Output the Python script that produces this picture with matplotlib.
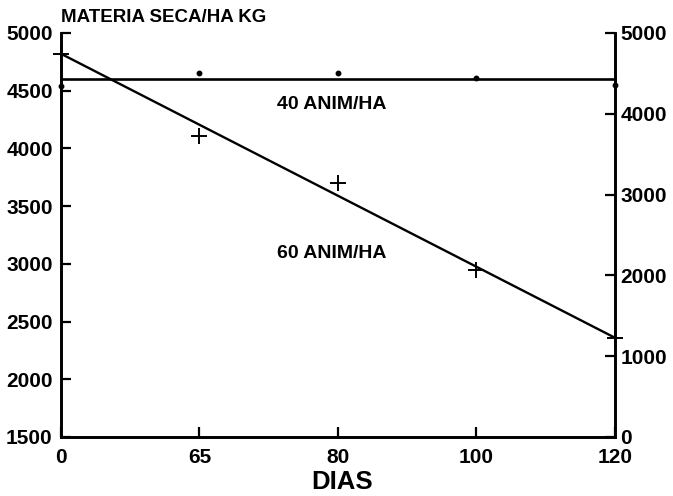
import numpy as np
import matplotlib
matplotlib.use('Agg')
import matplotlib.pyplot as plt

# datos
dias = ['0', '65', '80', '100', '120']
ms_60 = [4820, 4110, 3700, 2950, 2360]        # puntos (+) 60 ANIM/HA
ajuste_60 = [4820, 4205, 3590, 2975, 2360]    # recta ajustada
ms_40 = [4540, 4650, 4650, 4610, 4550]        # puntos 40 ANIM/HA
media_40 = 4600

izq_ticks = [1500, 2000, 2500, 3000, 3500, 4000, 4500, 5000]
der_ticks = [0, 1000, 2000, 3000, 4000, 5000]

plt.rcParams['font.family'] = ['Liberation Sans', 'DejaVu Sans']
plt.rcParams['font.weight'] = 'bold'

fig = plt.figure(figsize=(6.73, 4.96), dpi=100)
ax = fig.add_axes([0.0906, 0.119, 0.823, 0.8145])
x = np.arange(len(dias))

# 60 ANIM/HA
ax.plot(x, ajuste_60, color='black', lw=1.7, clip_on=False, zorder=3)
ax.plot(x, ms_60, ls='none', marker='+', ms=12, mew=1.4, color='black', clip_on=False, zorder=4)

# 40 ANIM/HA
ax.plot([x[0], x[-1]], [media_40, media_40], color='black', lw=1.9, clip_on=False, zorder=3)
ax.plot(x, ms_40, ls='none', marker='o', ms=3.2, color='black', clip_on=False, zorder=4)

ax.set_xlim(x[0], x[-1])
ax.set_ylim(1500, 5000)
ax.set_xticks(x)
ax.set_xticklabels(dias)
ax.set_yticks(izq_ticks)

ax2 = ax.twinx()
ax2.set_ylim(0, 5000)
ax2.set_yticks(der_ticks)

for a in (ax, ax2):
    a.spines['top'].set_visible(False)
    for s in a.spines.values():
        s.set_linewidth(1.9)
    a.tick_params(direction='in', length=7, width=1.6, labelsize=15)
ax.tick_params(axis='y', pad=6)
ax.tick_params(axis='x', pad=8)
ax2.tick_params(axis='y', pad=4)

ax.text(0.489, 0.824, '40 ANIM/HA', transform=ax.transAxes, ha='center', va='center',
        fontsize=14, fontweight='bold')
ax.text(0.489, 0.455, '60 ANIM/HA', transform=ax.transAxes, ha='center', va='center',
        fontsize=14, fontweight='bold')

fig.text(0.0906, 0.964, 'MATERIA SECA/HA KG', ha='left', va='center', fontsize=13.5, fontweight='bold')
fig.text(0.508, 0.028, 'DIAS', ha='center', va='center', fontsize=18.5, fontweight='bold')

fig.savefig('out.png', dpi=100)
